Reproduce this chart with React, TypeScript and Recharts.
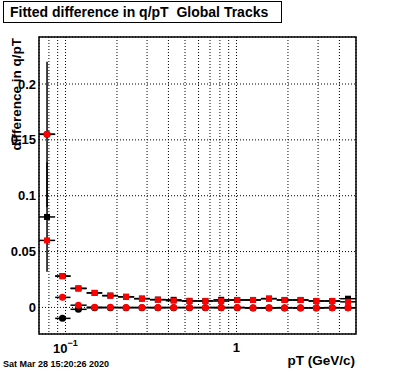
import { CartesianGrid, ErrorBar, ReferenceArea, Scatter, ScatterChart, XAxis, YAxis } from 'recharts'

const FONT = "'Liberation Sans', Arial, Helvetica, sans-serif"

// pT bins (GeV/c), log spaced
const ptCenters = [0.078, 0.096, 0.119, 0.148, 0.183, 0.226, 0.28, 0.347, 0.429, 0.531, 0.658, 0.814, 1.01, 1.25, 1.55, 1.91, 2.37, 2.93, 3.63, 4.49]
const ptEdges = [0.07, 0.087, 0.107, 0.133, 0.164, 0.203, 0.252, 0.312, 0.386, 0.478, 0.592, 0.733, 0.907, 1.12, 1.39, 1.72, 2.13, 2.64, 3.27, 4.04, 5.0]

const blackSquares = [0.081, 0.028, 0.017, 0.013, 0.0106, 0.0095, 0.0079, 0.007, 0.0068, 0.0059, 0.0058, 0.0068, 0.0067, 0.0067, 0.0079, 0.0067, 0.0067, 0.0058, 0.0058, 0.0078]
const blackSquareErr = [0.049, 0, 0, 0, 0, 0, 0, 0, 0, 0, 0, 0, 0, 0, 0, 0, 0, 0, 0, 0]
const redSquares = [0.06, 0.028, 0.017, 0.013, 0.0105, 0.0095, 0.0078, 0.0069, 0.006, 0.0057, 0.0057, 0.0057, 0.0066, 0.0066, 0.0078, 0.0066, 0.0066, 0.0057, 0.0057, 0.005]
const blackCircles = [0.155, -0.0098, -0.0017, -0.0004, -0.0003, -0.0003, -0.0003, -0.0004, -0.0003, -0.0003, -0.0003, -0.0004, -0.0003, -0.0006, -0.0006, -0.0005, -0.0006, -0.0006, -0.0004, -0.0004]
const redCircles = [0.155, 0.009, 0.002, 0.0002, 0.0001, 0, 0, 0, 0, 0, 0, 0, 0, -0.0003, -0.0003, -0.0002, -0.0003, -0.0003, -0.0002, -0.0003]
const redCircleErr = [0.065, 0, 0, 0, 0, 0, 0, 0, 0, 0, 0, 0, 0, 0, 0, 0, 0, 0, 0, 0]

const X_MIN = 0.07
const X_MAX = 5
const Y_MIN = -0.0238
const Y_MAX = 0.2421

const xMajor = [0.1, 1]
const xAll = [0.08, 0.09, 0.1, 0.2, 0.3, 0.4, 0.5, 0.6, 0.7, 0.8, 0.9, 1, 2, 3, 4]
const yMajor = [0, 0.05, 0.1, 0.15, 0.2]
const yMinor = [-0.02, -0.01, 0, 0.01, 0.02, 0.03, 0.04, 0.05, 0.06, 0.07, 0.08, 0.09, 0.1, 0.11, 0.12, 0.13, 0.14, 0.15, 0.16, 0.17, 0.18, 0.19, 0.2, 0.21, 0.22, 0.23, 0.24]

const rows = (ys: number[], eys?: number[]) =>
  ptCenters.map((x, i) => ({
    x,
    y: ys[i],
    ex: [x - ptEdges[i], ptEdges[i + 1] - x],
    ey: eys ? eys[i] : 0,
  }))

const square = (color: string) => (p: any) => (
  <rect x={p.cx - 3} y={p.cy - 3} width={6} height={6} fill={color} />
)
const circle = (color: string) => (p: any) => <circle cx={p.cx} cy={p.cy} r={3.5} fill={color} />

const XTick = ({ x, y, payload }: any) => {
  const exp = Math.round(Math.log10(payload.value))
  const style = { fontFamily: FONT, fontWeight: 'bold' as const, fill: '#000' }
  if (exp === 0)
    return (
      <text x={x} y={y + 18} textAnchor="middle" fontSize={13} style={style}>
        1
      </text>
    )
  return (
    <text x={x} y={y + 19} textAnchor="middle" fontSize={13} style={style}>
      <tspan>10</tspan>
      <tspan dy={-7} fontSize={9}>
        {`\u2212${Math.abs(exp)}`}
      </tspan>
    </text>
  )
}

const blank = () => ''

export default function App() {
  const xCommon = { type: 'number' as const, dataKey: 'x', scale: 'log' as const, domain: [X_MIN, X_MAX], allowDataOverflow: true, interval: 0 as const }
  const yCommon = { type: 'number' as const, dataKey: 'y', domain: [Y_MIN, Y_MAX], allowDataOverflow: true, interval: 0 as const }
  return (
    <div style={{ position: 'absolute', left: 0, top: 0, width: 396, height: 372, background: '#fff' }}>
      <ScatterChart width={396} height={372} margin={{ top: 37, right: 40, bottom: 0, left: 0 }}>
        <XAxis {...xCommon} xAxisId="x" ticks={xMajor} height={38} tickLine={false} axisLine={false} tickSize={0} tickMargin={0} tick={<XTick />} />
        <XAxis {...xCommon} xAxisId="xg" ticks={xAll} mirror height={0} axisLine={false} tickSize={5} stroke="#000" tickFormatter={blank} />
        <XAxis {...xCommon} xAxisId="xM" ticks={xMajor} mirror height={0} axisLine={false} tickSize={9} stroke="#000" tickFormatter={blank} />
        <YAxis
          {...yCommon}
          yAxisId="y"
          ticks={yMajor}
          width={39}
          tickLine={false}
          axisLine={false}
          tickSize={0}
          tickMargin={3}
          tick={{ fill: '#000', fontSize: 13, fontWeight: 'bold', fontFamily: FONT }}
        />
        <YAxis {...yCommon} yAxisId="ym" ticks={yMinor} mirror width={0} axisLine={false} tickSize={5} stroke="#000" tickFormatter={blank} />
        <YAxis {...yCommon} yAxisId="yM" ticks={yMajor} mirror width={0} axisLine={false} tickSize={9} stroke="#000" tickFormatter={blank} />
        <CartesianGrid xAxisId="xg" yAxisId="yM" stroke="#000" strokeDasharray="1 2" />
        <ReferenceArea xAxisId="x" yAxisId="y" x1={X_MIN} x2={X_MAX} y1={Y_MIN} y2={Y_MAX} fill="none" fillOpacity={0} stroke="#000" strokeWidth={1.5} ifOverflow="visible" />

        <Scatter xAxisId="x" yAxisId="y" data={rows(blackSquares, blackSquareErr)} shape={square('#000')} isAnimationActive={false}>
          <ErrorBar dataKey="ex" direction="x" width={0} stroke="#000" isAnimationActive={false} />
          <ErrorBar dataKey="ey" direction="y" width={0} stroke="#000" isAnimationActive={false} />
        </Scatter>
        <Scatter xAxisId="x" yAxisId="y" data={rows(blackCircles)} shape={circle('#000')} isAnimationActive={false}>
          <ErrorBar dataKey="ex" direction="x" width={0} stroke="#000" isAnimationActive={false} />
        </Scatter>
        <Scatter xAxisId="x" yAxisId="y" data={rows(redSquares)} shape={square('#ff0000')} isAnimationActive={false}>
          <ErrorBar dataKey="ex" direction="x" width={0} stroke="#000" isAnimationActive={false} />
        </Scatter>
        <Scatter xAxisId="x" yAxisId="y" data={rows(redCircles, redCircleErr)} shape={circle('#ff0000')} isAnimationActive={false}>
          <ErrorBar dataKey="ex" direction="x" width={0} stroke="#000" isAnimationActive={false} />
          <ErrorBar dataKey="ey" direction="y" width={0} stroke="#000" isAnimationActive={false} />
        </Scatter>
      </ScatterChart>

      <svg width={396} height={372} style={{ position: 'absolute', left: 0, top: 0, pointerEvents: 'none' }}>
        <g fontFamily={FONT} fontWeight="bold" fill="#000">
          <rect x={3.5} y={1.5} width={278} height={21} fill="#fff" stroke="#000" />
          <text x={10} y={16.5} fontSize={14} style={{ whiteSpace: 'pre' }}>
            {'Fitted difference in q/pT  Global Tracks'}
          </text>
          <text x={20.5} y={38} fontSize={13.5} textAnchor="end" transform="rotate(-90 20.5 38)">
            difference in q/pT
          </text>
          <text x={355} y={365} fontSize={13.5} textAnchor="end">
            pT (GeV/c)
          </text>
          <text x={3} y={367} fontSize={9}>
            Sat Mar 28 15:20:26 2020
          </text>
        </g>
      </svg>
    </div>
  )
}
